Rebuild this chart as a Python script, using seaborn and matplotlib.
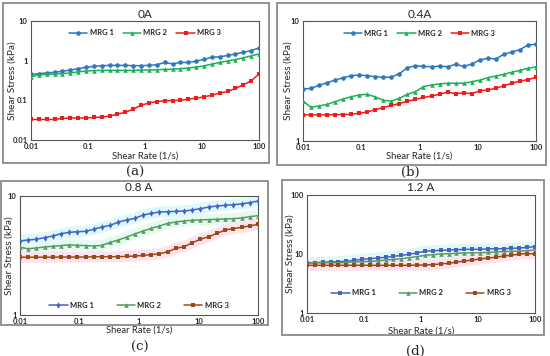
import numpy as np
import pandas as pd
import matplotlib
matplotlib.use("Agg")
import matplotlib.pyplot as plt
import seaborn as sns
from matplotlib.patches import Rectangle

# ─────────────────────────────────────────────
# Data
# ─────────────────────────────────────────────
shear_rate = [0.01, 0.0137, 0.0189, 0.0259, 0.0356, 0.0489, 0.0672, 0.0924, 0.127, 0.174,
              0.239, 0.329, 0.452, 0.621, 0.853, 1.17, 1.61, 2.21, 3.04, 4.18,
              5.74, 7.88, 10.8, 14.9, 20.4, 28.1, 38.6, 53.0, 72.8, 100.0]
series_names = ["MRG 1", "MRG 2", "MRG 3"]

a_mrg1 = [0.45, 0.47, 0.49, 0.51, 0.54, 0.58, 0.63, 0.68, 0.72, 0.75,
          0.76, 0.76, 0.76, 0.75, 0.75, 0.76, 0.79, 0.90, 0.83, 0.90,
          0.90, 0.97, 1.08, 1.22, 1.25, 1.35, 1.48, 1.62, 1.80, 2.10]
a_mrg2 = [0.39, 0.44, 0.45, 0.46, 0.47, 0.49, 0.52, 0.55, 0.56, 0.57,
          0.57, 0.57, 0.57, 0.57, 0.58, 0.58, 0.59, 0.60, 0.61, 0.63,
          0.65, 0.69, 0.74, 0.82, 0.90, 0.98, 1.07, 1.18, 1.32, 1.48]
a_mrg3 = [0.033, 0.033, 0.033, 0.033, 0.035, 0.036, 0.036, 0.036, 0.037, 0.038,
          0.040, 0.045, 0.050, 0.060, 0.075, 0.086, 0.093, 0.097, 0.099, 0.100,
          0.107, 0.113, 0.122, 0.135, 0.152, 0.167, 0.200, 0.245, 0.310, 0.460]

b_mrg1 = [2.71, 2.75, 2.91, 3.06, 3.22, 3.37, 3.50, 3.55, 3.50, 3.44,
          3.39, 3.41, 3.64, 4.08, 4.24, 4.18, 4.16, 4.21, 4.16, 4.36,
          4.18, 4.38, 4.73, 4.89, 4.83, 5.28, 5.52, 5.77, 6.31, 6.39]
b_mrg2 = [2.15, 1.91, 1.96, 2.02, 2.13, 2.24, 2.34, 2.42, 2.45, 2.33,
          2.18, 2.15, 2.27, 2.45, 2.58, 2.84, 2.93, 2.99, 3.03, 3.03,
          3.03, 3.12, 3.21, 3.37, 3.48, 3.60, 3.74, 3.88, 4.03, 4.16]
b_mrg3 = [1.65, 1.65, 1.65, 1.65, 1.66, 1.66, 1.67, 1.70, 1.75, 1.82,
          1.90, 1.98, 2.05, 2.15, 2.22, 2.31, 2.37, 2.45, 2.55, 2.48,
          2.52, 2.48, 2.62, 2.66, 2.75, 2.89, 3.03, 3.16, 3.25, 3.39]

c_mrg1 = [4.19, 4.27, 4.33, 4.47, 4.61, 4.82, 4.95, 5.01, 5.05, 5.25,
          5.49, 5.67, 6.05, 6.29, 6.49, 6.92, 7.15, 7.34, 7.38, 7.43,
          7.48, 7.63, 7.83, 8.08, 8.24, 8.35, 8.46, 8.57, 8.79, 9.08]
c_mrg2 = [3.71, 3.60, 3.66, 3.73, 3.78, 3.83, 3.88, 3.85, 3.83, 3.80,
          3.85, 4.08, 4.27, 4.52, 4.80, 5.08, 5.35, 5.60, 5.89, 6.05,
          6.17, 6.25, 6.29, 6.33, 6.37, 6.41, 6.45, 6.53, 6.70, 6.84]
c_mrg3 = [3.06, 3.06, 3.06, 3.06, 3.06, 3.07, 3.07, 3.07, 3.07, 3.09,
          3.09, 3.09, 3.09, 3.11, 3.13, 3.17, 3.21, 3.27, 3.40, 3.63,
          3.75, 4.05, 4.33, 4.55, 4.85, 5.18, 5.32, 5.46, 5.60, 5.78]

d_mrg1 = [7.10, 7.13, 7.23, 7.31, 7.41, 7.52, 7.82, 8.13, 8.34, 8.55,
          8.79, 9.13, 9.49, 9.86, 10.5, 11.1, 11.4, 11.5, 11.7, 11.8,
          12.0, 12.0, 12.0, 12.2, 12.3, 12.3, 12.5, 12.6, 13.0, 13.3]
d_mrg2 = [7.00, 7.10, 7.10, 7.10, 7.10, 7.20, 7.30, 7.40, 7.50, 7.60,
          7.90, 8.10, 8.30, 8.70, 9.00, 9.50, 9.70, 10.0, 10.1, 10.3,
          10.4, 10.5, 10.5, 10.7, 10.8, 11.0, 11.1, 11.2, 11.4, 11.7]
d_mrg3 = [6.43, 6.43, 6.43, 6.43, 6.43, 6.43, 6.43, 6.43, 6.43, 6.43,
          6.43, 6.43, 6.43, 6.43, 6.50, 6.50, 6.60, 6.80, 6.95, 7.30,
          7.60, 7.90, 8.20, 8.55, 8.80, 9.25, 9.50, 10.0, 10.1, 10.1]

# ─────────────────────────────────────────────
# Styles
# ─────────────────────────────────────────────
W, H = 550, 356
PAL_AB = ["#2E78BE", "#1DB055", "#F01C1C"]
PAL_CD = ["#4562C8", "#5A9A62", "#9A4A16"]
GLOW = ["#DDF9FA", "#E6FAF2", "#FDE3EE"]
FONT = ["Lato", "DejaVu Sans"]


def px_rect(x0, y0, x1, y1):
    """Pixel box (from top-left) -> figure fraction [l, b, w, h]."""
    return [x0 / W, 1 - y1 / H, (x1 - x0) / W, (y1 - y0) / H]


def panel(fig, frame, box, values, title, caption, ylim, yticks, ylabels,
          palette, markers, legend_y, title_y, xlab_y, ylab_x, glow=False):
    fig.add_artist(Rectangle((frame[0] / W, 1 - frame[3] / H),
                             (frame[2] - frame[0]) / W, (frame[3] - frame[1]) / H,
                             transform=fig.transFigure, fill=False,
                             edgecolor="#8a8a8a", linewidth=1.3))
    ax = fig.add_axes(px_rect(*box))
    df = pd.DataFrame({
        "rate": shear_rate * 3,
        "stress": values[0] + values[1] + values[2],
        "series": np.repeat(series_names, len(shear_rate)),
    })
    if glow:
        for name, col in zip(series_names, GLOW):
            sub = df[df.series == name]
            ax.plot(sub.rate, sub.stress, color=col, lw=8,
                    solid_capstyle="butt", zorder=1)
    sns.lineplot(data=df, x="rate", y="stress", hue="series", style="series",
                 markers=markers, dashes=False, palette=palette, ax=ax,
                 markersize=3.3, markeredgewidth=0, linewidth=1.1, zorder=3)
    ax.set_xscale("log")
    ax.set_yscale("log")
    ax.set_xlim(0.01, 100)
    ax.set_ylim(*ylim)
    ax.set_xticks([0.01, 0.1, 1, 10, 100])
    ax.set_xticklabels(["0.01", "0.1", "1", "10", "100"])
    ax.set_yticks(yticks)
    ax.set_yticklabels(ylabels)
    ax.minorticks_off()
    ax.tick_params(length=0, labelsize=5.5, pad=2.5)
    for lab in ax.get_xticklabels() + ax.get_yticklabels():
        lab.set_fontweight("bold")
    bw, bh = box[2] - box[0], box[3] - box[1]
    ax.set_xlabel("Shear Rate (1/s)", fontsize=6.8)
    ax.xaxis.set_label_coords(0.5, -(xlab_y - box[3]) / bh)
    ax.xaxis.label.set_va("center")
    ax.set_ylabel("Shear Stress (kPa)", fontsize=7.2)
    ax.yaxis.set_label_coords((ylab_x - box[0]) / bw, 0.5)
    ax.yaxis.label.set_va("center")
    for sp in ax.spines.values():
        sp.set_color("#555555")
        sp.set_linewidth(0.8)
    cx = (box[0] + box[2]) / 2 / W
    fig.text(cx, 1 - title_y / H, title, ha="center", va="center", fontsize=8.5)
    fig.text(caption[0] / W, 1 - caption[1] / H, caption[2], ha="center", va="center",
             fontsize=9.5, family="DejaVu Serif")
    handles, labels = ax.get_legend_handles_labels()
    leg = ax.legend(handles, labels, loc="center", bbox_to_anchor=(0.5, legend_y),
                    ncol=3, frameon=False, handlelength=2.4,
                    prop={"family": FONT, "size": 5.5, "weight": "bold"},
                    columnspacing=3.0 if glow else 1.2, handletextpad=0.3)
    return ax


sns.set_theme(style="white")
plt.rcParams["font.family"] = FONT

fig = plt.figure(figsize=(5.5, 3.56), dpi=100)
fig.patch.set_facecolor("white")

panel(fig, (3, 3, 269, 163), (31, 21, 259, 140), [a_mrg1, a_mrg2, a_mrg3],
      "0A", (135, 172, "(a)"), (0.01, 10), [0.01, 0.1, 1, 10],
      ["0.01", "0.1", "1", "10"], PAL_AB, ["o", "^", "s"], 0.9, 14, 156, 12)
panel(fig, (277, 3, 546, 165), (303, 21, 536, 141), [b_mrg1, b_mrg2, b_mrg3],
      "0.4A", (410, 172, "(b)"), (1, 10), [1, 10], ["1", "10"],
      PAL_AB, ["o", "^", "s"], 0.9, 15, 156, 288)
panel(fig, (1, 181, 268, 325), (20, 196, 258, 315), [c_mrg1, c_mrg2, c_mrg3],
      "0.8 A", (140, 347, "(c)"), (1, 10), [1, 10], ["1", "10"],
      PAL_CD, ["d", "^", "s"], 0.08, 188, 330, 9, glow=True)
panel(fig, (282, 180, 544, 335), (307, 195, 535, 313), [d_mrg1, d_mrg2, d_mrg3],
      "1.2 A", (415, 351, "(d)"), (1, 100), [1, 10, 100], ["1", "10", "100"],
      PAL_CD, ["s", "^", "s"], 0.17, 188, 331, 290, glow=True)

fig.savefig("out.png", dpi=100)
